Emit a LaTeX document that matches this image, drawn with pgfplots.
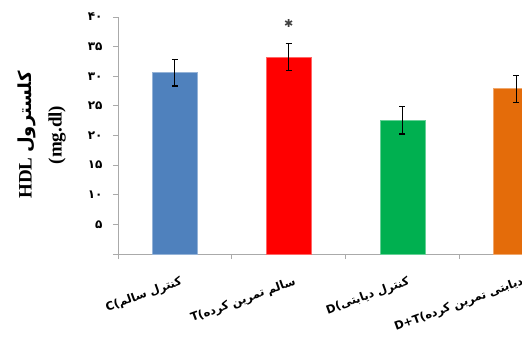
\documentclass[border=0pt]{standalone}
\usepackage{pgfplots}
\pgfplotsset{compat=1.18}
\usepackage{fontspec}
\setmainfont{Liberation Serif}
\newfontfamily\arabicfont[Script=Arabic]{DejaVu Sans}
\newfontfamily\symfont{DejaVu Sans}
\TeXXeTstate=1
\definecolor{cblue}{RGB}{79,129,189}
\definecolor{cred}{RGB}{255,0,0}
\definecolor{cgreen}{RGB}{0,176,80}
\definecolor{corange}{RGB}{228,108,10}
\definecolor{axgray}{RGB}{170,170,170}
\begin{document}
\begin{tikzpicture}
\begin{axis}[
  at={(118pt,86pt)}, anchor=south west,
  scale only axis, width=455pt, height=237pt,
  xmin=-0.5, xmax=3.5, ymin=0, ymax=40,
  axis x line*=bottom, axis y line*=left,
  axis line style={axgray, line width=0.8pt},
  tick align=outside,
  ytick={0,5,...,40},
  yticklabels={,۵,۱۰,۱۵,۲۰,۲۵,۳۰,۳۵,۴۰},
  yticklabel style={font=\arabicfont\bfseries\fontsize{12}{12}\selectfont, xshift=-7pt},
  major tick length=5pt, minor tick length=5pt,
  ytick style={axgray, line width=0.8pt},
  xtick={0,1,2,3},
  xticklabels={{C(\beginR کنترل سالم\endR},{T(\beginR سالم تمرین کرده\endR},{D(\beginR کنترل دیابتی\endR},{D+T(\beginR دیابتی تمرین کرده\endR}},
  major x tick style={draw=none},
  minor xtick={-0.5,0.5,1.5,2.5,3.5},
  minor x tick style={axgray, line width=0.8pt},
  xticklabel style={font=\arabicfont\bfseries\fontsize{11.5}{12}\selectfont, rotate=20, anchor=north east, xshift=2pt, yshift=-14pt},
  bar width=45pt,
  clip=false,
]
\addplot[ybar, bar shift=0pt, fill=cblue, draw=cblue!60!white, line width=0.6pt,
  error bars/.cd, y dir=both, y explicit,
  error bar style={black, line width=1.1pt},
  error mark options={rotate=90, black, mark size=3pt, line width=1.1pt}]
  coordinates {(0,30.6) +- (0,2.25)};
\addplot[ybar, bar shift=0pt, fill=cred, draw=cred!60!white, line width=0.6pt,
  error bars/.cd, y dir=both, y explicit,
  error bar style={black, line width=1.1pt},
  error mark options={rotate=90, black, mark size=3pt, line width=1.1pt}]
  coordinates {(1,33.2) +- (0,2.3)};
\addplot[ybar, bar shift=0pt, fill=cgreen, draw=cgreen!60!white, line width=0.6pt,
  error bars/.cd, y dir=both, y explicit,
  error bar style={black, line width=1.1pt},
  error mark options={rotate=90, black, mark size=3pt, line width=1.1pt}]
  coordinates {(2,22.6) +- (0,2.35)};
\addplot[ybar, bar shift=0pt, fill=corange, draw=corange!60!white, line width=0.6pt,
  error bars/.cd, y dir=both, y explicit,
  error bar style={black, line width=1.1pt},
  error mark options={rotate=90, black, mark size=3pt, line width=1.1pt}]
  coordinates {(3,27.9) +- (0,2.3)};
\node[font=\symfont\bfseries\fontsize{11}{11}\selectfont, text=black!75] at (axis cs:1,38.9) {✱};
\end{axis}
\node[rotate=90, align=center, font=\bfseries\fontsize{19}{30}\selectfont] at (42pt,205pt)
  {HDL {\arabicfont\fontsize{18}{18}\selectfont\beginR کلسترول\endR}\\(mg.dl)};
\pgfresetboundingbox
\useasboundingbox (0,0) rectangle (522pt,340pt);
\end{tikzpicture}
\end{document}
